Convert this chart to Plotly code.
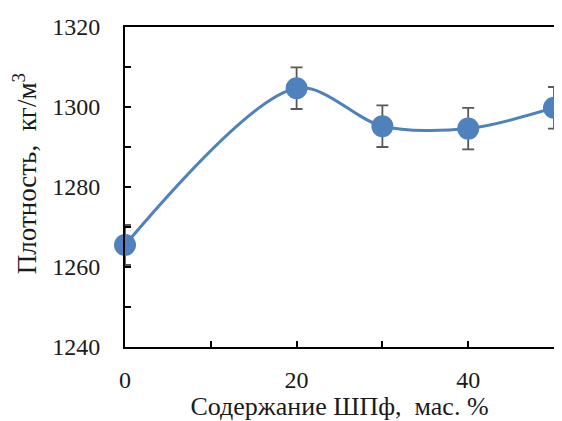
import plotly.graph_objects as go

x_vals = [0, 20, 30, 40, 50]
density = [1265.5, 1304.7, 1295.2, 1294.6, 1299.8]
errors = [5, 5.2, 5.2, 5.2, 5.2]
x_ticks = [0, 20, 40]
y_ticks = [1240, 1260, 1280, 1300, 1320]
y_title = "Плотность,  кг/м<sup>3</sup>"
x_title = "Содержание ШПф,  мас. %"

blue = "#4F81BD"
font_family = "Liberation Serif"

fig = go.Figure()
fig.add_trace(go.Scatter(
    x=x_vals, y=density,
    mode="lines+markers",
    line=dict(color=blue, width=3, shape="spline", smoothing=0.9),
    marker=dict(color=blue, size=22),
    error_y=dict(type="data", array=errors, visible=True, color="#595959",
                 thickness=1.8, width=6),
    cliponaxis=False,
    showlegend=False,
))

# page has an 8px body margin, so the figure is 8px smaller than the window
fig.update_layout(
    width=554, height=413,
    margin=dict(l=117, r=8, t=19, b=74),
    paper_bgcolor="white", plot_bgcolor="white",
    font=dict(family=font_family, size=24, color="#1a1a1a"),
)
fig.update_xaxes(
    automargin=False,
    range=[0, 50], tickvals=x_ticks, ticks="inside", ticklen=6, tickwidth=1.5,
    tickcolor="black", showgrid=False, zeroline=False,
    showline=True, linecolor="black", linewidth=2, mirror=True,
    minor=dict(dtick=10, ticks="inside", ticklen=6, tickwidth=1.5, tickcolor="black"),
    ticklabelstandoff=10,
    title=dict(text=x_title, standoff=16, font=dict(size=26)),
)
fig.update_yaxes(
    automargin=False,
    range=[1240, 1320], tickvals=y_ticks, ticks="inside", ticklen=6, tickwidth=1.5,
    tickcolor="black", showgrid=False, zeroline=False,
    showline=True, linecolor="black", linewidth=2, mirror=True,
    minor=dict(dtick=10, ticks="inside", ticklen=6, tickwidth=1.5, tickcolor="black"),
    ticklabelstandoff=18,
)
fig.add_annotation(
    text=y_title, textangle=-90, font=dict(size=27),
    xref="paper", yref="paper", x=0, y=0.54,
    xanchor="center", yanchor="middle", xshift=-100, showarrow=False,
)

fig.write_html("out.html")
